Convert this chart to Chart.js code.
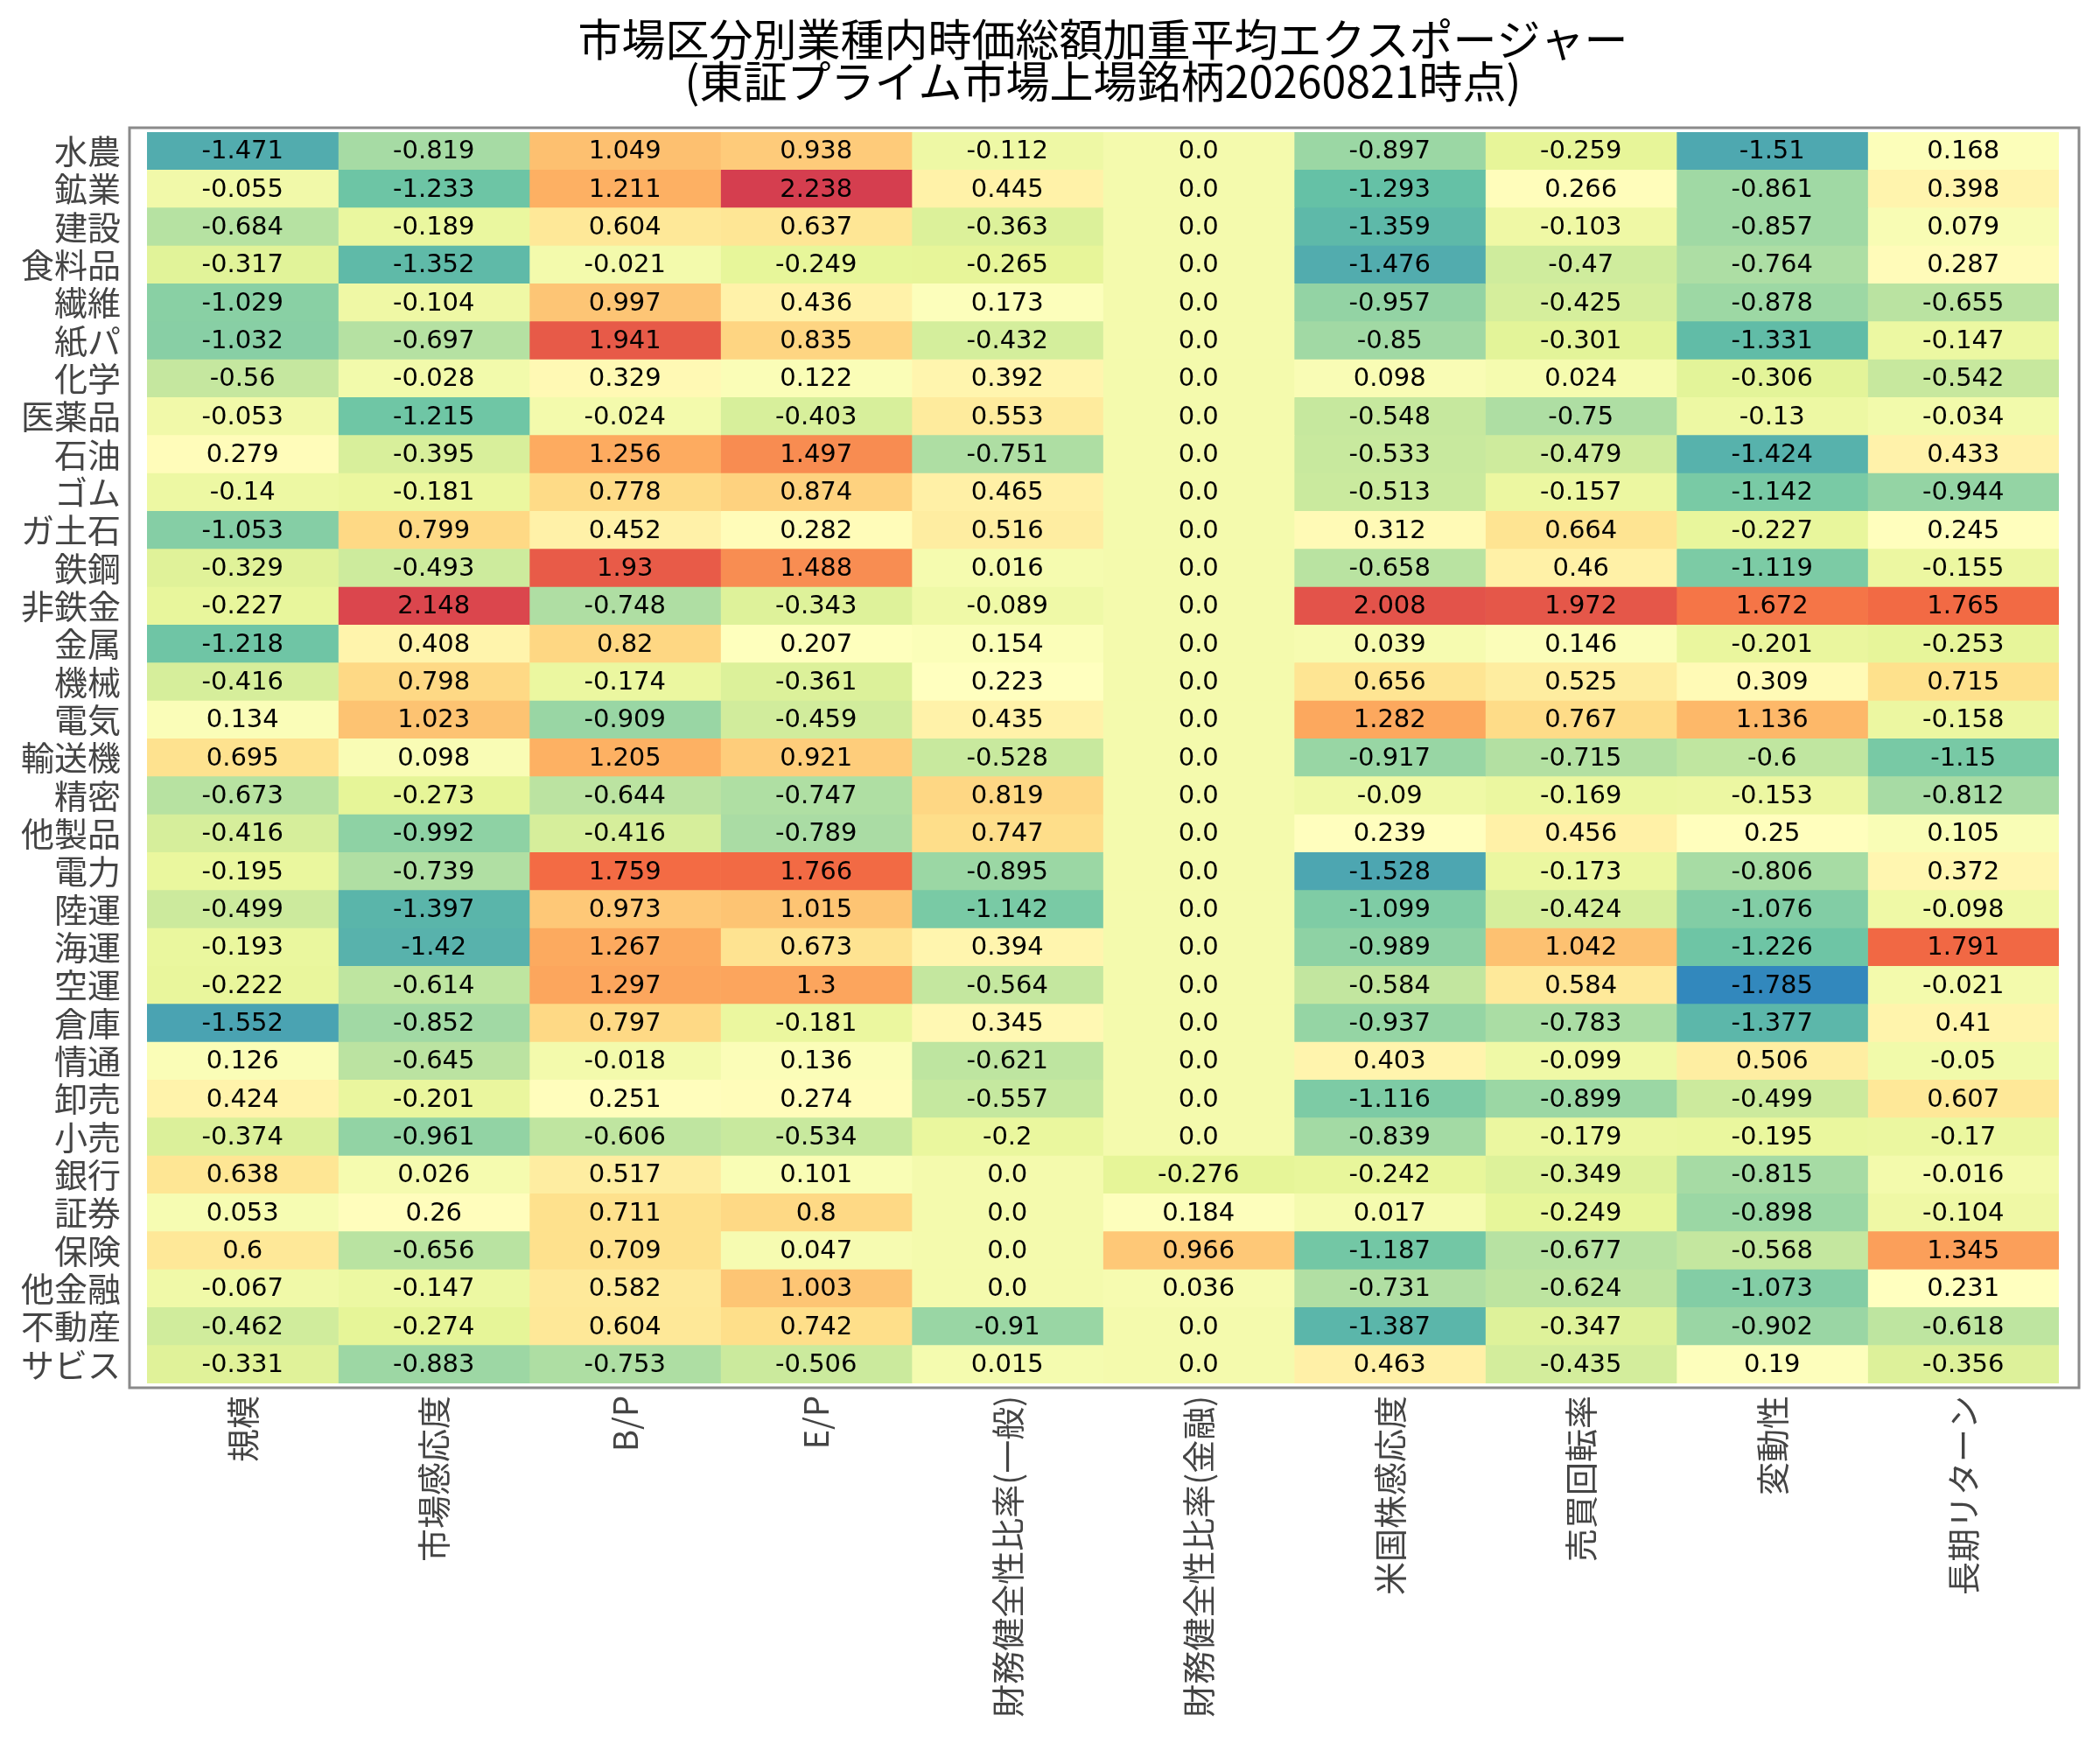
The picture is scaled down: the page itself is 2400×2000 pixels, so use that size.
<!DOCTYPE html>
<html lang="ja">
<head>
<meta charset="utf-8">
<title>市場区分別業種内時価総額加重平均エクスポージャー</title>
<script src="https://cdn.jsdelivr.net/npm/chart.js@4.4.1/dist/chart.umd.min.js"></script>
<style>
    html, body { margin: 0; padding: 0; background: #ffffff; }
    canvas { display: block; }
</style>
</head>
<body>
<canvas id="heatmap" width="2400" height="2000" style="width:2400px;height:2000px"></canvas>
<script>
// 業種（行）
const rowLabels = ['水農', '鉱業', '建設', '食料品', '繊維', '紙パ', '化学', '医薬品', '石油', 'ゴム',
    'ガ土石', '鉄鋼', '非鉄金', '金属', '機械', '電気', '輸送機', '精密', '他製品', '電力',
    '陸運', '海運', '空運', '倉庫', '情通', '卸売', '小売', '銀行', '証券', '保険',
    '他金融', '不動産', 'サビス'];

// ファクター（列）
const colLabels = ['規模', '市場感応度', 'B/P', 'E/P', '財務健全性比率(一般)', '財務健全性比率(金融)',
    '米国株感応度', '売買回転率', '変動性', '長期リターン'];

// 各ファクターのエクスポージャー（行順）
const kibo = [-1.471, -0.055, -0.684, -0.317, -1.029, -1.032, -0.56, -0.053, 0.279, -0.14,
    -1.053, -0.329, -0.227, -1.218, -0.416, 0.134, 0.695, -0.673, -0.416, -0.195,
    -0.499, -0.193, -0.222, -1.552, 0.126, 0.424, -0.374, 0.638, 0.053, 0.6,
    -0.067, -0.462, -0.331];
const shijoKanno = [-0.819, -1.233, -0.189, -1.352, -0.104, -0.697, -0.028, -1.215, -0.395, -0.181,
    0.799, -0.493, 2.148, 0.408, 0.798, 1.023, 0.098, -0.273, -0.992, -0.739,
    -1.397, -1.42, -0.614, -0.852, -0.645, -0.201, -0.961, 0.026, 0.26, -0.656,
    -0.147, -0.274, -0.883];
const bp = [1.049, 1.211, 0.604, -0.021, 0.997, 1.941, 0.329, -0.024, 1.256, 0.778,
    0.452, 1.93, -0.748, 0.82, -0.174, -0.909, 1.205, -0.644, -0.416, 1.759,
    0.973, 1.267, 1.297, 0.797, -0.018, 0.251, -0.606, 0.517, 0.711, 0.709,
    0.582, 0.604, -0.753];
const ep = [0.938, 2.238, 0.637, -0.249, 0.436, 0.835, 0.122, -0.403, 1.497, 0.874,
    0.282, 1.488, -0.343, 0.207, -0.361, -0.459, 0.921, -0.747, -0.789, 1.766,
    1.015, 0.673, 1.3, -0.181, 0.136, 0.274, -0.534, 0.101, 0.8, 0.047,
    1.003, 0.742, -0.506];
const zaimuIppan = [-0.112, 0.445, -0.363, -0.265, 0.173, -0.432, 0.392, 0.553, -0.751, 0.465,
    0.516, 0.016, -0.089, 0.154, 0.223, 0.435, -0.528, 0.819, 0.747, -0.895,
    -1.142, 0.394, -0.564, 0.345, -0.621, -0.557, -0.2, 0.0, 0.0, 0.0,
    0.0, -0.91, 0.015];
const zaimuKinyu = [0.0, 0.0, 0.0, 0.0, 0.0, 0.0, 0.0, 0.0, 0.0, 0.0,
    0.0, 0.0, 0.0, 0.0, 0.0, 0.0, 0.0, 0.0, 0.0, 0.0,
    0.0, 0.0, 0.0, 0.0, 0.0, 0.0, 0.0, -0.276, 0.184, 0.966,
    0.036, 0.0, 0.0];
const beikokuKanno = [-0.897, -1.293, -1.359, -1.476, -0.957, -0.85, 0.098, -0.548, -0.533, -0.513,
    0.312, -0.658, 2.008, 0.039, 0.656, 1.282, -0.917, -0.09, 0.239, -1.528,
    -1.099, -0.989, -0.584, -0.937, 0.403, -1.116, -0.839, -0.242, 0.017, -1.187,
    -0.731, -1.387, 0.463];
const baibaiKaiten = [-0.259, 0.266, -0.103, -0.47, -0.425, -0.301, 0.024, -0.75, -0.479, -0.157,
    0.664, 0.46, 1.972, 0.146, 0.525, 0.767, -0.715, -0.169, 0.456, -0.173,
    -0.424, 1.042, 0.584, -0.783, -0.099, -0.899, -0.179, -0.349, -0.249, -0.677,
    -0.624, -0.347, -0.435];
const hendosei = [-1.51, -0.861, -0.857, -0.764, -0.878, -1.331, -0.306, -0.13, -1.424, -1.142,
    -0.227, -1.119, 1.672, -0.201, 0.309, 1.136, -0.6, -0.153, 0.25, -0.806,
    -1.076, -1.226, -1.785, -1.377, 0.506, -0.499, -0.195, -0.815, -0.898, -0.568,
    -1.073, -0.902, 0.19];
const chokiReturn = [0.168, 0.398, 0.079, 0.287, -0.655, -0.147, -0.542, -0.034, 0.433, -0.944,
    0.245, -0.155, 1.765, -0.253, 0.715, -0.158, -1.15, -0.812, 0.105, 0.372,
    -0.098, 1.791, -0.021, 0.41, -0.05, 0.607, -0.17, -0.016, -0.104, 1.345,
    0.231, -0.618, -0.356];

const columns = [kibo, shijoKanno, bp, ep, zaimuIppan, zaimuKinyu, beikokuKanno, baibaiKaiten, hendosei, chokiReturn];

// Spectral（9色）を反転したカラースケール
const spectralStops = ['#3288bd', '#66c2a5', '#abdda4', '#e6f598', '#ffffbf', '#fee08b', '#fdae61', '#f46d43', '#d53e4f'];

const allValues = columns.flat();
const vMin = Math.min(...allValues);
const vMax = Math.max(...allValues);

function hexToRgb(hex) {
    const n = parseInt(hex.slice(1), 16);
    return [(n >> 16) & 255, (n >> 8) & 255, n & 255];
}

function colorFor(v) {
    let t = (v - vMin) / (vMax - vMin);
    t = Math.max(0, Math.min(1, t));
    const pos = t * (spectralStops.length - 1);
    const i = Math.min(Math.floor(pos), spectralStops.length - 2);
    const f = pos - i;
    const a = hexToRgb(spectralStops[i]);
    const b = hexToRgb(spectralStops[i + 1]);
    const c = a.map((x, k) => Math.round(x + (b[k] - x) * f));
    return `rgb(${c[0]}, ${c[1]}, ${c[2]})`;
}

// 数値表示（Python の str(float) と同じ見た目）
function formatValue(v) {
    return Number.isInteger(v) ? v.toFixed(1) : String(v);
}

// セル内の数値を描く
const cellTextPlugin = {
    id: 'cellText',
    afterDatasetsDraw(chart) {
        const ctx = chart.ctx;
        ctx.save();
        ctx.font = '29px "DejaVu Sans", sans-serif';
        ctx.fillStyle = '#000000';
        ctx.textAlign = 'center';
        ctx.textBaseline = 'middle';
        chart.data.datasets.forEach((ds, j) => {
            const meta = chart.getDatasetMeta(j);
            meta.data.forEach((bar, i) => {
                const p = bar.getCenterPoint();
                ctx.fillText(formatValue(ds.values[i]), p.x, p.y + 1);
            });
        });
        ctx.restore();
    }
};

// プロット領域の枠
const framePlugin = {
    id: 'frame',
    afterDraw(chart) {
        const a = chart.chartArea;
        const ctx = chart.ctx;
        ctx.save();
        ctx.strokeStyle = '#8a8a8a';
        ctx.lineWidth = 3;
        ctx.strokeRect(a.left - 20, a.top - 5, (a.right + 23) - (a.left - 20), (a.bottom + 5) - (a.top - 5));
        ctx.restore();
    }
};

const datasets = columns.map((vals, j) => ({
    label: colLabels[j],
    data: vals.map(() => 1),
    values: vals,
    backgroundColor: vals.map(colorFor),
    borderWidth: 0,
    barPercentage: 1.0,
    categoryPercentage: 1.0
}));

const config = {
    type: 'bar',
    data: {
        labels: rowLabels,
        datasets: datasets
    },
    options: {
        indexAxis: 'y',
        responsive: false,
        devicePixelRatio: 1,
        animation: false,
        layout: {
            padding: { left: 0, right: 47, top: 0, bottom: 0 }
        },
        plugins: {
            legend: { display: false },
            tooltip: { enabled: false },
            title: {
                display: true,
                fullSize: false,
                text: ['市場区分別業種内時価総額加重平均エクスポージャー', '(東証プライム市場上場銘柄20260821時点)'],
                color: '#000000',
                font: { family: '"Noto Sans CJK JP", sans-serif', size: 50, weight: 'normal', lineHeight: 0.96 },
                padding: { top: 21, bottom: 34 }
            }
        },
        scales: {
            x: {
                type: 'linear',
                stacked: true,
                min: 0,
                max: colLabels.length,
                grid: { display: false, drawTicks: false },
                border: { display: false },
                afterBuildTicks: function(scale) {
                    scale.ticks = colLabels.map((_, i) => ({ value: i + 0.5 }));
                },
                afterFit: function(scale) {
                    scale.height = 419;
                },
                ticks: {
                    autoSkip: false,
                    minRotation: 90,
                    maxRotation: 90,
                    padding: 14,
                    color: '#444444',
                    font: { family: '"Noto Sans CJK JP", sans-serif', size: 38 },
                    callback: function(value, index) {
                        return colLabels[index];
                    }
                }
            },
            y: {
                type: 'category',
                stacked: true,
                offset: true,
                grid: { display: false, drawTicks: false },
                border: { display: false },
                afterFit: function(scale) {
                    scale.width = 168;
                },
                ticks: {
                    autoSkip: false,
                    padding: 30,
                    color: '#444444',
                    font: { family: '"Noto Sans CJK JP", sans-serif', size: 38 }
                }
            }
        }
    },
    plugins: [cellTextPlugin, framePlugin]
};

new Chart(document.getElementById('heatmap'), config);
</script>
</body>
</html>
